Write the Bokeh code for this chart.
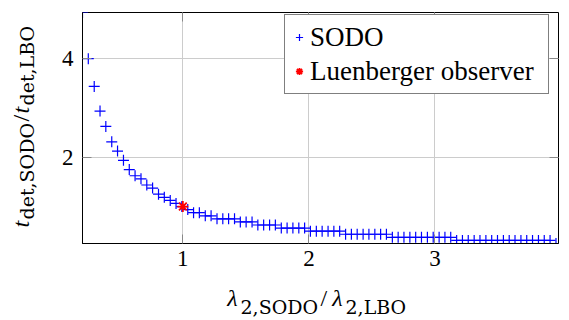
import math
from bokeh.plotting import figure
from bokeh.layouts import column, row
from bokeh.models import Range1d, FixedTicker, Label, Legend, LegendItem, LinearAxis
from bokeh.embed import file_html
from bokeh.resources import INLINE

# ---- data ----
lam_ratio = [0.204, 0.250, 0.297, 0.343, 0.389, 0.436, 0.482, 0.529, 0.575, 0.621,
             0.668, 0.714, 0.760, 0.807, 0.853, 0.900, 0.946, 0.992, 1.039, 1.085,
             1.131, 1.178, 1.224, 1.271, 1.317, 1.363, 1.410, 1.456, 1.502, 1.549,
             1.595, 1.641, 1.688, 1.734, 1.781, 1.827, 1.873, 1.920, 1.966, 2.012,
             2.059, 2.105, 2.152, 2.198, 2.244, 2.291, 2.337, 2.383, 2.430, 2.476,
             2.523, 2.569, 2.615, 2.662, 2.708, 2.754, 2.801, 2.847, 2.893, 2.940,
             2.986, 3.033, 3.079, 3.125, 3.172, 3.218, 3.264, 3.311, 3.357, 3.404,
             3.450, 3.496, 3.543, 3.589, 3.635, 3.682, 3.728, 3.774, 3.821, 3.867,
             3.913, 3.960]
t_ratio = [4.9375, 4.0, 3.4375, 2.9375, 2.625, 2.3125, 2.125, 1.9375, 1.75, 1.625,
           1.5625, 1.4375, 1.375, 1.25, 1.1875, 1.125, 1.0625, 1.0, 0.9375, 0.875,
           0.875, 0.8125, 0.8125, 0.75, 0.75, 0.75, 0.75, 0.6875, 0.6875, 0.6875,
           0.625, 0.625, 0.625, 0.625, 0.5625, 0.5625, 0.5625, 0.5625, 0.5625, 0.5,
           0.5, 0.5, 0.5, 0.5, 0.5, 0.4375, 0.4375, 0.4375, 0.4375, 0.4375,
           0.4375, 0.4375, 0.4375, 0.375, 0.375, 0.375, 0.375, 0.375, 0.375, 0.375,
           0.375, 0.375, 0.375, 0.375, 0.3125, 0.3125, 0.3125, 0.3125, 0.3125, 0.3125,
           0.3125, 0.3125, 0.3125, 0.3125, 0.3125, 0.3125, 0.3125, 0.3125, 0.3125, 0.3125,
           0.3125, 0.25]
lbo_x = [1.0]
lbo_y = [1.0]
x_ticks = [1, 2, 3]
y_ticks = [2, 4]
series_names = ["SODO", "Luenberger observer"]

SERIF = "Liberation Serif, serif"
SUBF = "DejaVu Serif, serif"

# ---------------- main plot ----------------
p = figure(width=518, height=279, output_backend="svg", toolbar_location=None,
           x_range=Range1d(0.204, 3.98), y_range=Range1d(0.25, 4.9375),
           min_border_left=34, min_border_right=8, min_border_top=12,
           min_border_bottom=36)
p.background_fill_color = "white"
p.border_fill_color = "white"
p.outline_line_color = "black"
p.outline_line_width = 1

for ax, ticks in ((p.xaxis[0], x_ticks), (p.yaxis[0], y_ticks)):
    ax.ticker = FixedTicker(ticks=ticks)
    ax.axis_line_color = "black"
    ax.major_tick_in = 9
    ax.major_tick_out = 0
    ax.major_tick_line_color = "#888888"
    ax.minor_tick_line_color = None
    ax.major_label_text_font = SERIF
    ax.major_label_text_font_size = "23px"
    ax.major_label_text_color = "black"
p.xaxis.major_label_standoff = 7
p.yaxis.major_label_standoff = 9

# mirrored tick marks on the top and right edges (no labels drawn)
for loc, ticks in (("above", x_ticks), ("right", y_ticks)):
    ax = LinearAxis(ticker=FixedTicker(ticks=ticks), axis_line_color=None,
                    major_tick_in=9, major_tick_out=0,
                    major_tick_line_color="#888888", minor_tick_line_color=None,
                    major_label_text_font_size="1px", major_label_text_color=None,
                    major_label_standoff=0)
    p.add_layout(ax, loc)

p.xgrid.ticker = FixedTicker(ticks=x_ticks)
p.ygrid.ticker = FixedTicker(ticks=y_ticks)
p.grid.grid_line_color = "#cccccc"
p.grid.grid_line_width = 1

r1 = p.scatter(lam_ratio, t_ratio, marker="cross", size=11, line_color="#0000ff",
               line_width=1.2)
r2 = p.scatter(lbo_x, lbo_y, marker="asterisk", size=11, line_color="#ff0000",
               line_width=1.8)

legend = Legend(items=[LegendItem(label=series_names[0], renderers=[r1]),
                       LegendItem(label=series_names[1], renderers=[r2])],
                location=(202, 149), padding=5, spacing=0, margin=0,
                glyph_width=18, glyph_height=34, label_height=34, label_width=233,
                label_standoff=2, label_text_font=SERIF, label_text_font_size="27px",
                label_text_color="black", border_line_color="black",
                border_line_width=1, background_fill_color="white",
                background_fill_alpha=1)
p.add_layout(legend, "center")


def blank(w, h):
    f = figure(width=w, height=h, output_backend="svg", toolbar_location=None,
               x_range=Range1d(0, 1), y_range=Range1d(0, 1),
               x_axis_location=None, y_axis_location=None, min_border=0)
    f.grid.visible = False
    f.outline_line_color = None
    f.background_fill_color = "white"
    f.border_fill_color = "white"
    return f


def lab(f, x, y, text, size, font, italic=False, angle=0.0):
    f.add_layout(Label(x=x, y=y, x_units="screen", y_units="screen", text=text,
                       text_font=font, text_font_size=f"{size}px",
                       text_font_style="italic" if italic else "normal",
                       angle=angle, text_align="left", text_baseline="alphabetic",
                       text_color="black"))


# ---------------- y axis label panel (frame aligned with main frame) ----------------
fy = blank(48, 279)
fy.min_border_top = 12
fy.min_border_bottom = 36
A = math.pi / 2
lab(fy, 20.5, 16, "t", 24, SERIF, italic=True, angle=A)
lab(fy, 26.5, 24, "det,SODO", 19, SUBF, angle=A)
lab(fy, 20.5, 122, "/", 24, SERIF, angle=A)
lab(fy, 20.5, 130, "t", 24, SERIF, italic=True, angle=A)
lab(fy, 26.5, 138, "det,LBO", 19, SUBF, angle=A)

# ---------------- x axis label panel ----------------
fx = blank(566, 39)
lab(fx, 226.7, 21.0, "λ", 24, SERIF, italic=True)
lab(fx, 240, 11.5, "2,SODO", 19, SUBF)
lab(fx, 320, 21.0, "/", 24, SERIF)
lab(fx, 331.7, 21.0, "λ", 24, SERIF, italic=True)
lab(fx, 345, 11.5, "2,LBO", 19, SUBF)

layout = column(row(fy, p, spacing=0), fx, spacing=0)
open("out.html", "w").write(file_html(layout, INLINE))
